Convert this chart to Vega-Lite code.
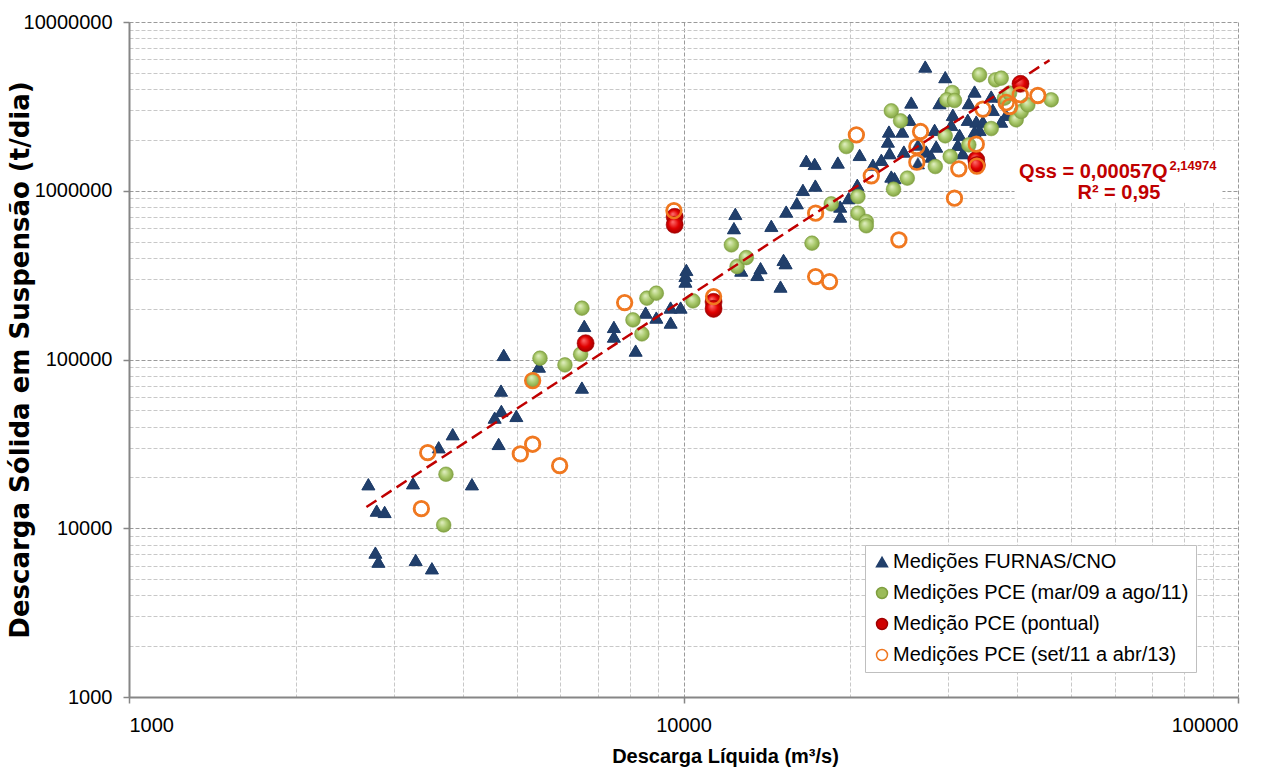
{
  "$schema": "https://vega.github.io/schema/vega-lite/v6.json",
  "width": 1109,
  "height": 675,
  "autosize": {"type": "none"},
  "padding": {"left": 129, "top": 22, "right": 39, "bottom": 72},
  "background": "white",
  "config": {
    "font": "Liberation Sans",
    "view": {"stroke": null},
    "axis": {
      "domainColor": "#868686",
      "domainWidth": 2,
      "tickColor": "#868686",
      "tickWidth": 1.5,
      "tickSize": 6,
      "gridDash": [4, 2],
      "gridWidth": 1,
      "labelColor": "black",
      "labelFontSize": 20,
      "labelFont": "Liberation Sans",
      "titleFont": "Liberation Sans",
      "titleFontSize": 20,
      "titleFontWeight": "bold",
      "titleColor": "black"
    },
    "legend": {
      "labelFont": "Liberation Sans",
      "labelFontSize": 20,
      "labelColor": "black",
      "labelLimit": 0,
      "labelOffset": 1,
      "symbolSize": 120,
      "symbolStrokeWidth": 1.5,
      "rowPadding": 11,
      "padding": 7,
      "fillColor": "white",
      "strokeColor": "#BFBFBF"
    }
  },
  "datasets": {
    "pts": [
      {"q": 2702, "qss": 18230, "s": "Medições FURNAS/CNO"},
      {"q": 2797, "qss": 12720, "s": "Medições FURNAS/CNO"},
      {"q": 2891, "qss": 12490, "s": "Medições FURNAS/CNO"},
      {"q": 2782, "qss": 7170, "s": "Medições FURNAS/CNO"},
      {"q": 2817, "qss": 6340, "s": "Medições FURNAS/CNO"},
      {"q": 3252, "qss": 18480, "s": "Medições FURNAS/CNO"},
      {"q": 3289, "qss": 6490, "s": "Medições FURNAS/CNO"},
      {"q": 3518, "qss": 5790, "s": "Medições FURNAS/CNO"},
      {"q": 3618, "qss": 30200, "s": "Medições FURNAS/CNO"},
      {"q": 3835, "qss": 36080, "s": "Medições FURNAS/CNO"},
      {"q": 4154, "qss": 18230, "s": "Medições FURNAS/CNO"},
      {"q": 4565, "qss": 45240, "s": "Medições FURNAS/CNO"},
      {"q": 4694, "qss": 49580, "s": "Medições FURNAS/CNO"},
      {"q": 4641, "qss": 31600, "s": "Medições FURNAS/CNO"},
      {"q": 4687, "qss": 65420, "s": "Medições FURNAS/CNO"},
      {"q": 4740, "qss": 106500, "s": "Medições FURNAS/CNO"},
      {"q": 4995, "qss": 46320, "s": "Medições FURNAS/CNO"},
      {"q": 5486, "qss": 90780, "s": "Medições FURNAS/CNO"},
      {"q": 6558, "qss": 68170, "s": "Medições FURNAS/CNO"},
      {"q": 6623, "qss": 158200, "s": "Medições FURNAS/CNO"},
      {"q": 7490, "qss": 156000, "s": "Medições FURNAS/CNO"},
      {"q": 7490, "qss": 136700, "s": "Medições FURNAS/CNO"},
      {"q": 8198, "qss": 112900, "s": "Medições FURNAS/CNO"},
      {"q": 8545, "qss": 189700, "s": "Medições FURNAS/CNO"},
      {"q": 8933, "qss": 177200, "s": "Medições FURNAS/CNO"},
      {"q": 9478, "qss": 203200, "s": "Medições FURNAS/CNO"},
      {"q": 9480, "qss": 165500, "s": "Medições FURNAS/CNO"},
      {"q": 9880, "qss": 203200, "s": "Medições FURNAS/CNO"},
      {"q": 10120, "qss": 339700, "s": "Medições FURNAS/CNO"},
      {"q": 10080, "qss": 313000, "s": "Medições FURNAS/CNO"},
      {"q": 10080, "qss": 289600, "s": "Medições FURNAS/CNO"},
      {"q": 12400, "qss": 729600, "s": "Medições FURNAS/CNO"},
      {"q": 12330, "qss": 600200, "s": "Medições FURNAS/CNO"},
      {"q": 12710, "qss": 336500, "s": "Medições FURNAS/CNO"},
      {"q": 13590, "qss": 317300, "s": "Medições FURNAS/CNO"},
      {"q": 13770, "qss": 347700, "s": "Medições FURNAS/CNO"},
      {"q": 14400, "qss": 619500, "s": "Medições FURNAS/CNO"},
      {"q": 14960, "qss": 270400, "s": "Medições FURNAS/CNO"},
      {"q": 15150, "qss": 389400, "s": "Medições FURNAS/CNO"},
      {"q": 15280, "qss": 372200, "s": "Medições FURNAS/CNO"},
      {"q": 15320, "qss": 752800, "s": "Medições FURNAS/CNO"},
      {"q": 16010, "qss": 844000, "s": "Medições FURNAS/CNO"},
      {"q": 16420, "qss": 1012000, "s": "Medições FURNAS/CNO"},
      {"q": 17290, "qss": 1073000, "s": "Medições FURNAS/CNO"},
      {"q": 19170, "qss": 806000, "s": "Medições FURNAS/CNO"},
      {"q": 19170, "qss": 703200, "s": "Medições FURNAS/CNO"},
      {"q": 19850, "qss": 903800, "s": "Medições FURNAS/CNO"},
      {"q": 20580, "qss": 1084000, "s": "Medições FURNAS/CNO"},
      {"q": 16650, "qss": 1504000, "s": "Medições FURNAS/CNO"},
      {"q": 17240, "qss": 1443000, "s": "Medições FURNAS/CNO"},
      {"q": 18980, "qss": 1470000, "s": "Medições FURNAS/CNO"},
      {"q": 20780, "qss": 1632000, "s": "Medições FURNAS/CNO"},
      {"q": 22740, "qss": 1525000, "s": "Medições FURNAS/CNO"},
      {"q": 21960, "qss": 1424000, "s": "Medições FURNAS/CNO"},
      {"q": 23530, "qss": 1670000, "s": "Medições FURNAS/CNO"},
      {"q": 23470, "qss": 2244000, "s": "Medições FURNAS/CNO"},
      {"q": 23370, "qss": 1956000, "s": "Medições FURNAS/CNO"},
      {"q": 24800, "qss": 2244000, "s": "Medições FURNAS/CNO"},
      {"q": 25570, "qss": 2633000, "s": "Medições FURNAS/CNO"},
      {"q": 24970, "qss": 1708000, "s": "Medições FURNAS/CNO"},
      {"q": 23700, "qss": 1214000, "s": "Medições FURNAS/CNO"},
      {"q": 24020, "qss": 1188000, "s": "Medições FURNAS/CNO"},
      {"q": 25750, "qss": 3334000, "s": "Medições FURNAS/CNO"},
      {"q": 27290, "qss": 5447000, "s": "Medições FURNAS/CNO"},
      {"q": 29650, "qss": 4713000, "s": "Medições FURNAS/CNO"},
      {"q": 28370, "qss": 2296000, "s": "Medições FURNAS/CNO"},
      {"q": 28560, "qss": 1828000, "s": "Medições FURNAS/CNO"},
      {"q": 27400, "qss": 1708000, "s": "Medições FURNAS/CNO"},
      {"q": 26470, "qss": 1457000, "s": "Medições FURNAS/CNO"},
      {"q": 27980, "qss": 1595000, "s": "Medições FURNAS/CNO"},
      {"q": 28950, "qss": 3305000, "s": "Medições FURNAS/CNO"},
      {"q": 30600, "qss": 2818000, "s": "Medições FURNAS/CNO"},
      {"q": 30400, "qss": 2458000, "s": "Medições FURNAS/CNO"},
      {"q": 31460, "qss": 2145000, "s": "Medições FURNAS/CNO"},
      {"q": 31240, "qss": 1871000, "s": "Medições FURNAS/CNO"},
      {"q": 31890, "qss": 1670000, "s": "Medições FURNAS/CNO"},
      {"q": 32700, "qss": 3305000, "s": "Medições FURNAS/CNO"},
      {"q": 33490, "qss": 3873000, "s": "Medições FURNAS/CNO"},
      {"q": 32560, "qss": 2633000, "s": "Medições FURNAS/CNO"},
      {"q": 33730, "qss": 2570000, "s": "Medições FURNAS/CNO"},
      {"q": 34670, "qss": 2570000, "s": "Medições FURNAS/CNO"},
      {"q": 34190, "qss": 2296000, "s": "Medições FURNAS/CNO"},
      {"q": 36130, "qss": 3017000, "s": "Medições FURNAS/CNO"},
      {"q": 35890, "qss": 3618000, "s": "Medições FURNAS/CNO"},
      {"q": 37650, "qss": 3618000, "s": "Medições FURNAS/CNO"},
      {"q": 38190, "qss": 2818000, "s": "Medições FURNAS/CNO"},
      {"q": 37410, "qss": 2570000, "s": "Medições FURNAS/CNO"},
      {"q": 33490, "qss": 2244000, "s": "Medições FURNAS/CNO"},
      {"q": 26470, "qss": 1871000, "s": "Medições FURNAS/CNO"},
      {"q": 3694, "qss": 10460, "s": "Medições PCE (mar/09 a ago/11)"},
      {"q": 3729, "qss": 20900, "s": "Medições PCE (mar/09 a ago/11)"},
      {"q": 5352, "qss": 75700, "s": "Medições PCE (mar/09 a ago/11)"},
      {"q": 5510, "qss": 101800, "s": "Medições PCE (mar/09 a ago/11)"},
      {"q": 6112, "qss": 92900, "s": "Medições PCE (mar/09 a ago/11)"},
      {"q": 6523, "qss": 107500, "s": "Medições PCE (mar/09 a ago/11)"},
      {"q": 6558, "qss": 201400, "s": "Medições PCE (mar/09 a ago/11)"},
      {"q": 8107, "qss": 171700, "s": "Medições PCE (mar/09 a ago/11)"},
      {"q": 8414, "qss": 141800, "s": "Medições PCE (mar/09 a ago/11)"},
      {"q": 8590, "qss": 230900, "s": "Medições PCE (mar/09 a ago/11)"},
      {"q": 8933, "qss": 247200, "s": "Medições PCE (mar/09 a ago/11)"},
      {"q": 10400, "qss": 222500, "s": "Medições PCE (mar/09 a ago/11)"},
      {"q": 12200, "qss": 478000, "s": "Medições PCE (mar/09 a ago/11)"},
      {"q": 12490, "qss": 355400, "s": "Medições PCE (mar/09 a ago/11)"},
      {"q": 12980, "qss": 401800, "s": "Medições PCE (mar/09 a ago/11)"},
      {"q": 17050, "qss": 489000, "s": "Medições PCE (mar/09 a ago/11)"},
      {"q": 18470, "qss": 836000, "s": "Medições PCE (mar/09 a ago/11)"},
      {"q": 20630, "qss": 924000, "s": "Medições PCE (mar/09 a ago/11)"},
      {"q": 20630, "qss": 736800, "s": "Medições PCE (mar/09 a ago/11)"},
      {"q": 21360, "qss": 656900, "s": "Medições PCE (mar/09 a ago/11)"},
      {"q": 21360, "qss": 620000, "s": "Medições PCE (mar/09 a ago/11)"},
      {"q": 19660, "qss": 1828000, "s": "Medições PCE (mar/09 a ago/11)"},
      {"q": 23700, "qss": 2976000, "s": "Medições PCE (mar/09 a ago/11)"},
      {"q": 24630, "qss": 2596000, "s": "Medições PCE (mar/09 a ago/11)"},
      {"q": 23920, "qss": 1022000, "s": "Medições PCE (mar/09 a ago/11)"},
      {"q": 25330, "qss": 1188000, "s": "Medições PCE (mar/09 a ago/11)"},
      {"q": 28450, "qss": 1392000, "s": "Medições PCE (mar/09 a ago/11)"},
      {"q": 30270, "qss": 1595000, "s": "Medições PCE (mar/09 a ago/11)"},
      {"q": 29650, "qss": 2116000, "s": "Medições PCE (mar/09 a ago/11)"},
      {"q": 32700, "qss": 1871000, "s": "Medições PCE (mar/09 a ago/11)"},
      {"q": 35890, "qss": 2337000, "s": "Medições PCE (mar/09 a ago/11)"},
      {"q": 30530, "qss": 3821000, "s": "Medições PCE (mar/09 a ago/11)"},
      {"q": 29850, "qss": 3459000, "s": "Medições PCE (mar/09 a ago/11)"},
      {"q": 30810, "qss": 3427000, "s": "Medições PCE (mar/09 a ago/11)"},
      {"q": 34190, "qss": 4864000, "s": "Medições PCE (mar/09 a ago/11)"},
      {"q": 36540, "qss": 4543000, "s": "Medições PCE (mar/09 a ago/11)"},
      {"q": 37410, "qss": 4650000, "s": "Medições PCE (mar/09 a ago/11)"},
      {"q": 39810, "qss": 2633000, "s": "Medições PCE (mar/09 a ago/11)"},
      {"q": 40650, "qss": 2948000, "s": "Medições PCE (mar/09 a ago/11)"},
      {"q": 41780, "qss": 3230000, "s": "Medições PCE (mar/09 a ago/11)"},
      {"q": 46040, "qss": 3459000, "s": "Medições PCE (mar/09 a ago/11)"},
      {"q": 37930, "qss": 3540000, "s": "Medições PCE (mar/09 a ago/11)"},
      {"q": 38730, "qss": 3789000, "s": "Medições PCE (mar/09 a ago/11)"},
      {"q": 6660, "qss": 124900, "s": "Medição PCE (pontual)"},
      {"q": 9640, "qss": 700200, "s": "Medição PCE (pontual)"},
      {"q": 9640, "qss": 627900, "s": "Medição PCE (pontual)"},
      {"q": 11330, "qss": 219500, "s": "Medição PCE (pontual)"},
      {"q": 11330, "qss": 199500, "s": "Medição PCE (pontual)"},
      {"q": 33730, "qss": 1525000, "s": "Medição PCE (pontual)"},
      {"q": 33810, "qss": 1420000, "s": "Medição PCE (pontual)"},
      {"q": 40530, "qss": 4300000, "s": "Medição PCE (pontual)"},
      {"q": 3367, "qss": 13070, "s": "Medições PCE (set/11 a abr/13)"},
      {"q": 3457, "qss": 28060, "s": "Medições PCE (set/11 a abr/13)"},
      {"q": 5078, "qss": 27560, "s": "Medições PCE (set/11 a abr/13)"},
      {"q": 5345, "qss": 75000, "s": "Medições PCE (set/11 a abr/13)"},
      {"q": 5345, "qss": 31470, "s": "Medições PCE (set/11 a abr/13)"},
      {"q": 5979, "qss": 23500, "s": "Medições PCE (set/11 a abr/13)"},
      {"q": 7832, "qss": 217500, "s": "Medições PCE (set/11 a abr/13)"},
      {"q": 9610, "qss": 763200, "s": "Medições PCE (set/11 a abr/13)"},
      {"q": 11330, "qss": 236000, "s": "Medições PCE (set/11 a abr/13)"},
      {"q": 17310, "qss": 736800, "s": "Medições PCE (set/11 a abr/13)"},
      {"q": 17310, "qss": 310000, "s": "Medições PCE (set/11 a abr/13)"},
      {"q": 18340, "qss": 289600, "s": "Medições PCE (set/11 a abr/13)"},
      {"q": 20500, "qss": 2145000, "s": "Medições PCE (set/11 a abr/13)"},
      {"q": 21810, "qss": 1226000, "s": "Medições PCE (set/11 a abr/13)"},
      {"q": 24460, "qss": 511600, "s": "Medições PCE (set/11 a abr/13)"},
      {"q": 26350, "qss": 1828000, "s": "Medições PCE (set/11 a abr/13)"},
      {"q": 26760, "qss": 2244000, "s": "Medições PCE (set/11 a abr/13)"},
      {"q": 26350, "qss": 1477000, "s": "Medições PCE (set/11 a abr/13)"},
      {"q": 30810, "qss": 903800, "s": "Medições PCE (set/11 a abr/13)"},
      {"q": 31370, "qss": 1348000, "s": "Medições PCE (set/11 a abr/13)"},
      {"q": 33730, "qss": 1889000, "s": "Medições PCE (set/11 a abr/13)"},
      {"q": 33810, "qss": 1400000, "s": "Medições PCE (set/11 a abr/13)"},
      {"q": 34670, "qss": 3046000, "s": "Medições PCE (set/11 a abr/13)"},
      {"q": 38190, "qss": 3334000, "s": "Medições PCE (set/11 a abr/13)"},
      {"q": 38730, "qss": 3155000, "s": "Medições PCE (set/11 a abr/13)"},
      {"q": 40490, "qss": 3703000, "s": "Medições PCE (set/11 a abr/13)"},
      {"q": 43550, "qss": 3668000, "s": "Medições PCE (set/11 a abr/13)"}
    ]
  },
  "encoding": {
    "x": {
      "field": "q",
      "type": "quantitative",
      "scale": {"type": "log", "domain": [1000, 100000], "nice": false},
      "axis": {
        "title": "Descarga Líquida (m³/s)",
        "titleX": 596,
        "values": [1000, 2000, 3000, 4000, 5000, 6000, 7000, 8000, 9000, 10000, 20000, 30000, 40000, 50000, 60000, 70000, 80000, 90000, 100000],
        "labelExpr": "indexof([1000, 10000, 100000], datum.value) >= 0 ? '' + datum.value : ''",
        "gridColor": {"condition": {"test": "indexof([1000, 10000, 100000], datum.value) >= 0", "value": "#9A9A9A"}, "value": "#C8C8C8"},
        "tickOpacity": {"condition": {"test": "indexof([1000, 10000, 100000], datum.value) >= 0", "value": 1}, "value": 0},
        "labelPadding": 12,
        "titlePadding": 11
      }
    },
    "y": {
      "field": "qss",
      "type": "quantitative",
      "scale": {"type": "log", "domain": [1000, 10000000], "nice": false},
      "axis": {
        "title": "Descarga Sólida em Suspensão (t/dia)",
        "titleFont": "DejaVu Sans",
        "titleFontSize": 26,
        "values": [1000, 2000, 3000, 4000, 5000, 6000, 7000, 8000, 9000, 10000, 20000, 30000, 40000, 50000, 60000, 70000, 80000, 90000, 100000, 200000, 300000, 400000, 500000, 600000, 700000, 800000, 900000, 1000000, 2000000, 3000000, 4000000, 5000000, 6000000, 7000000, 8000000, 9000000, 10000000],
        "labelExpr": "indexof([1000, 10000, 100000, 1000000, 10000000], datum.value) >= 0 ? '' + datum.value : ''",
        "gridColor": {"condition": {"test": "indexof([1000, 10000, 100000, 1000000, 10000000], datum.value) >= 0", "value": "#9A9A9A"}, "value": "#C8C8C8"},
        "tickOpacity": {"condition": {"test": "indexof([1000, 10000, 100000, 1000000, 10000000], datum.value) >= 0", "value": 1}, "value": 0},
        "labelPadding": 11,
        "titlePadding": -10
      }
    }
  },
  "layer": [
    {
      "data": {"values": [{"q": 39540, "q2": 93760, "qss": 847900, "qss2": 1747000}]},
      "mark": {"type": "rect", "fill": "white"},
      "encoding": {"x2": {"field": "q2"}, "y2": {"field": "qss2"}}
    },
    {
      "data": {"name": "pts"},
      "mark": {"type": "point", "opacity": 1, "size": 160, "strokeWidth": 1},
      "encoding": {
        "shape": {"field": "s", "type": "nominal", "scale": {"domain": ["Medições FURNAS/CNO", "Medições PCE (mar/09 a ago/11)", "Medição PCE (pontual)", "Medições PCE (set/11 a abr/13)"], "range": ["triangle-up", "circle", "circle", "circle"]}, "legend": {"title": null, "orient": "none", "legendX": 736, "legendY": 523}},
        "fill": {"field": "s", "type": "nominal", "scale": {"domain": ["Medições FURNAS/CNO", "Medições PCE (mar/09 a ago/11)", "Medição PCE (pontual)", "Medições PCE (set/11 a abr/13)"], "range": ["#213F6B", "#9BBB59", "#D00000", "#FFFFFF"]}, "legend": {"title": null, "orient": "none", "legendX": 736, "legendY": 523}},
        "stroke": {"field": "s", "type": "nominal", "scale": {"domain": ["Medições FURNAS/CNO", "Medições PCE (mar/09 a ago/11)", "Medição PCE (pontual)", "Medições PCE (set/11 a abr/13)"], "range": ["#213F6B", "#7E9E3E", "#A00000", "#F07820"]}, "legend": {"title": null, "orient": "none", "legendX": 736, "legendY": 523}}
      }
    },
    {
      "data": {"name": "pts"},
      "transform": [{"filter": "datum.s === 'Medições FURNAS/CNO'"}],
      "mark": {"type": "point", "shape": "triangle-up", "opacity": 1, "filled": true, "size": 175, "strokeWidth": 0.5, "stroke": "#213F6B", "fill": "#213F6B"}
    },
    {
      "data": {"name": "pts"},
      "transform": [{"filter": "datum.s === 'Medições PCE (mar/09 a ago/11)'"}],
      "mark": {"type": "point", "shape": "circle", "opacity": 1, "size": 215, "strokeWidth": 0.6, "stroke": "#7E9E3E",
        "fill": {"gradient": "radial", "x1": 0.38, "y1": 0.32, "r1": 0, "x2": 0.5, "y2": 0.5, "r2": 0.55,
          "stops": [{"offset": 0, "color": "#E4F1C6"}, {"offset": 0.55, "color": "#A8C86A"}, {"offset": 1, "color": "#7C9C3C"}]}}
    },
    {
      "data": {"name": "pts"},
      "transform": [{"filter": "datum.s === 'Medição PCE (pontual)'"}],
      "mark": {"type": "point", "shape": "circle", "opacity": 1, "size": 290, "strokeWidth": 0.6, "stroke": "#A00000",
        "fill": {"gradient": "radial", "x1": 0.38, "y1": 0.32, "r1": 0, "x2": 0.5, "y2": 0.5, "r2": 0.55,
          "stops": [{"offset": 0, "color": "#FF7070"}, {"offset": 0.55, "color": "#E00000"}, {"offset": 1, "color": "#9A0000"}]}}
    },
    {
      "data": {"name": "pts"},
      "transform": [{"filter": "datum.s === 'Medições PCE (set/11 a abr/13)'"}],
      "mark": {"type": "point", "shape": "circle", "opacity": 1, "filled": false, "size": 220, "strokeWidth": 2.5, "stroke": "#F07820"}
    },
    {
      "data": {"values": [{"q": 2680, "qss": 13350}, {"q": 45720, "qss": 5940000}]},
      "mark": {"type": "line", "color": "#C00000", "strokeWidth": 2.5, "strokeDash": [12, 6]}
    },
    {
      "data": {"values": [{"q": 74640, "qss": 1198000, "t": "Qss = 0,00057Q"}]},
      "mark": {"type": "text", "align": "right", "baseline": "alphabetic", "font": "Liberation Sans", "fontSize": 20, "fontWeight": "bold", "color": "#C00000"},
      "encoding": {"text": {"field": "t"}}
    },
    {
      "data": {"values": [{"q": 75250, "qss": 1330000, "t": "2,14974"}]},
      "mark": {"type": "text", "align": "left", "baseline": "alphabetic", "font": "Liberation Sans", "fontSize": 13, "fontWeight": "bold", "color": "#C00000"},
      "encoding": {"text": {"field": "t"}}
    },
    {
      "data": {"values": [{"q": 51340, "qss": 895400, "t": "R² = 0,95"}]},
      "mark": {"type": "text", "align": "left", "baseline": "alphabetic", "font": "Liberation Sans", "fontSize": 20, "fontWeight": "bold", "color": "#C00000"},
      "encoding": {"text": {"field": "t"}}
    }
  ]
}
